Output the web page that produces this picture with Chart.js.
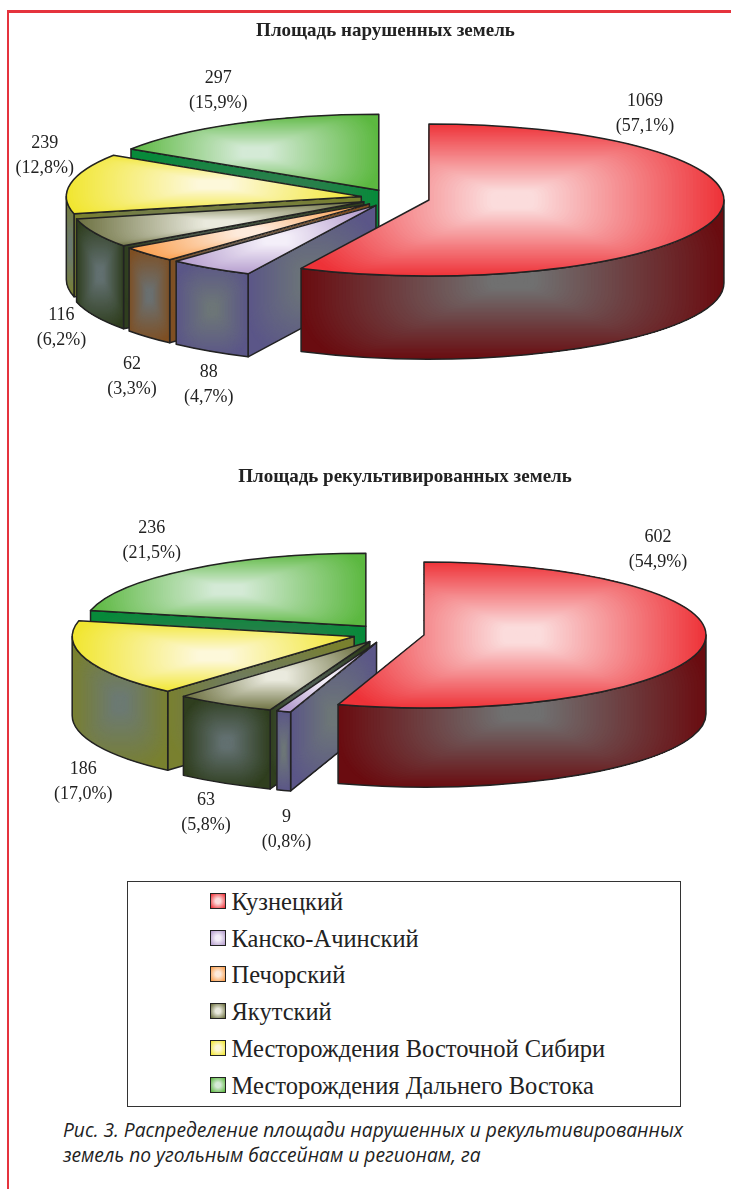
<!DOCTYPE html>
<html lang="ru">
<head>
<meta charset="utf-8">
<title>Площадь нарушенных и рекультивированных земель</title>
<script src="https://cdn.jsdelivr.net/npm/chart.js@4/dist/chart.umd.min.js"></script>
<style>
  html, body { margin: 0; padding: 0; background: #fff; overflow: hidden; }
  body { position: relative; width: 731px; height: 1189px; }
  #frameTop { position: absolute; left: 7px; right: 0; top: 10px; height: 3px; background: #e5333d; }
  #frameLeft { position: absolute; left: 7px; top: 10px; bottom: 0; width: 2.4px; background: #e5333d; }
  canvas { position: absolute; left: 0; display: block; }
  #chartDisturbed { top: 0; }
  #chartRestored { top: 440px; }
  #legendBox {
    position: absolute; left: 127px; top: 881px; width: 552px; height: 224px;
    border: 1px solid #333; font-family: "Liberation Serif", serif; font-size: 24.5px; color: #222;
  }
  .legendRow { position: absolute; left: 82px; height: 30px; line-height: 30px; white-space: nowrap; }
  .legendSwatch {
    position: absolute; left: 0; top: 6px; width: 14px; height: 14px; border: 1.5px solid #222;
  }
  .legendText { position: absolute; left: 21.5px; top: 0; }
  #note {
    position: absolute; left: 63px; top: 1117px; font-family: "Open Sans", sans-serif; font-style: italic;
    font-size: 20px; line-height: 25px; color: #222; white-space: nowrap;
    transform: scaleX(0.96); transform-origin: left top;
  }
</style>
</head>
<body>
<div id="frameTop"></div>
<div id="frameLeft"></div>
<canvas id="chartDisturbed" width="731" height="440"></canvas>
<canvas id="chartRestored" width="731" height="440"></canvas>
<div id="legendBox"></div>
<div id="note">Рис. 3. Распределение площади нарушенных и рекультивированных<br>земель по угольным бассейнам и регионам, га</div>

<script>
// Regions and hectares per chart
const regions = ['Кузнецкий', 'Канско-Ачинский', 'Печорский', 'Якутский', 'Месторождения Восточной Сибири', 'Месторождения Дальнего Востока'];
const disturbedArea = [1069, 88, 62, 116, 239, 297];
const disturbedShare = ['(57,1%)', '(4,7%)', '(3,3%)', '(6,2%)', '(12,8%)', '(15,9%)'];
const restoredArea = [602, 9, 0, 63, 186, 236];
const restoredShare = ['(54,9%)', '(0,8%)', '', '(5,8%)', '(17,0%)', '(21,5%)'];

// Face colours for each region: [edge, centre]
const topColors = [
  ['#ee3238', '#fbdcdc'], ['#b49ccd', '#f4eff9'], ['#fa9c48', '#fdeadb'],
  ['#6c7040', '#eaeade'], ['#f1e630', '#fdf8da'], ['#5cb840', '#d4ead6']
];
const sideColors = [
  ['#6a0c10', '#707070'], ['#5b5688', '#6d7678'], ['#7f4f22', '#6b7070'],
  ['#2f3e1e', '#627070'], ['#79802f', '#6c7a72'], ['#078a3a', '#457659']
];

function mix(a, b, t) {
  const pa = parseInt(a.slice(1), 16), pb = parseInt(b.slice(1), 16);
  const ch = s => Math.round(((pa >> s) & 255) * (1 - t) + ((pb >> s) & 255) * t);
  return `rgb(${ch(16)},${ch(8)},${ch(0)})`;
}

// Fills a face with a shape gradient running from bbox edge to bbox centre, then outlines it
function fillFace(ctx, tracePath, box, colors) {
  const [x0, y0, x1, y1] = box;
  const mx = (x0 + x1) / 2, my = (y0 + y1) / 2, hw = (x1 - x0) / 2, hh = (y1 - y0) / 2;
  ctx.save();
  ctx.beginPath();
  tracePath();
  ctx.clip();
  ctx.fillStyle = colors[0];
  ctx.fillRect(x0 - 2, y0 - 2, x1 - x0 + 4, y1 - y0 + 4);
  const steps = 60;
  for (let i = 0; i < steps; i++) {
    const k = 1 - i / steps;
    const w = hw * k + 1, h = hh * k + 1;
    ctx.fillStyle = mix(colors[0], colors[1], Math.min(1, (i / steps) * 1.12));
    ctx.beginPath();
    ctx.roundRect(mx - w, my - h, 2 * w, 2 * h, Math.min(w, h) * 0.7);
    ctx.fill();
  }
  ctx.restore();
  ctx.beginPath();
  tracePath();
  ctx.strokeStyle = '#222';
  ctx.lineWidth = 1.5;
  ctx.lineJoin = 'round';
  ctx.stroke();
}

// Extruded, tilted rendering of the pie's arc elements
const tiltedPie = {
  id: 'tiltedPie',
  beforeDatasetDraw(chart, args, opts) {
    const ctx = chart.ctx, arcs = args.meta.data, squash = opts.squash, depth = opts.depth;
    // Far slices first, the first slice overlaps the ones beside it
    const order = arcs.map((_, i) => i).reverse();
    ctx.save();
    for (const i of order) {
      const el = arcs[i];
      const { x, y, startAngle: s, endAngle: e, outerRadius: R } = el.getProps(['x', 'y', 'startAngle', 'endAngle', 'outerRadius'], true);
      if (e - s <= 0) continue;
      const mid = (s + e) / 2, off = el.options.offset;
      const cx = x + off * Math.cos(mid), cy = y + off * Math.sin(mid) * squash;
      const rim = a => [cx + R * Math.cos(a), cy + R * squash * Math.sin(a)];

      // Bounding box of the top sector
      const pts = [[cx, cy], rim(s), rim(e)];
      for (const q of [-Math.PI / 2, 0, Math.PI / 2, Math.PI]) {
        if (q >= s && q <= e) pts.push(rim(q));
      }
      const xs = pts.map(p => p[0]), ys = pts.map(p => p[1]);
      const box = [Math.min(...xs), Math.min(...ys), Math.max(...xs), Math.max(...ys)];

      // Cut wall along the leading radius, seen when it faces the viewer
      if (Math.sin(s - Math.PI / 2) > 0) {
        const [rx, ry] = rim(s);
        const wall = () => {
          ctx.moveTo(cx, cy); ctx.lineTo(rx, ry); ctx.lineTo(rx, ry + depth); ctx.lineTo(cx, cy + depth); ctx.closePath();
        };
        fillFace(ctx, wall, [Math.min(cx, rx), Math.min(cy, ry), Math.max(cx, rx), Math.max(cy, ry) + depth], sideColors[i]);
      }

      // Outer wall on the near half of the ellipse
      const a0 = Math.max(s, 0), a1 = Math.min(e, Math.PI);
      if (a1 > a0) {
        const outer = () => {
          ctx.ellipse(cx, cy, R, R * squash, 0, a0, a1);
          ctx.ellipse(cx, cy + depth, R, R * squash, 0, a1, a0, true);
          ctx.closePath();
        };
        const lefts = [rim(a0)[0], rim(a1)[0]], tops = [rim(a0)[1], rim(a1)[1]];
        if (a0 <= Math.PI / 2 && a1 >= Math.PI / 2) tops.push(cy + R * squash);
        fillFace(ctx, outer, [Math.min(...lefts), Math.min(...tops), Math.max(...lefts), Math.max(...tops) + depth], sideColors[i]);
      }

      // Top sector
      const sector = () => {
        ctx.moveTo(cx, cy);
        ctx.ellipse(cx, cy, R, R * squash, 0, s, e);
        ctx.closePath();
      };
      fillFace(ctx, sector, box, topColors[i]);
    }
    ctx.restore();
    return false;
  },
  afterDatasetsDraw(chart, args, opts) {
    const ctx = chart.ctx, arcs = chart.getDatasetMeta(0).data;
    const values = chart.data.datasets[0].data;
    ctx.save();
    ctx.fillStyle = '#222';
    ctx.textAlign = 'center';
    ctx.textBaseline = 'middle';
    ctx.font = opts.titleFont;
    ctx.fillText(opts.title, opts.titleX, opts.titleY);
    ctx.font = '18px "Liberation Serif", serif';
    arcs.forEach((el, i) => {
      if (!values[i]) return;
      const mid = (el.startAngle + el.endAngle) / 2, R = el.outerRadius;
      const ax = el.x + R * Math.cos(mid), ay = el.y + R * opts.squash * Math.sin(mid);
      const [nx, ny] = opts.labelShift[i];
      ctx.fillText(String(values[i]), ax + nx, ay + ny);
      ctx.fillText(opts.shares[i], ax + nx, ay + ny + opts.labelGap);
    });
    ctx.restore();
  }
};

function buildPie(id, values, shares, view) {
  return new Chart(document.getElementById(id), {
    type: 'pie',
    plugins: [tiltedPie],
    data: {
      labels: regions,
      datasets: [{ data: values, radius: view.radius, offset: view.explode, borderWidth: 0 }]
    },
    options: {
      responsive: false,
      animation: false,
      layout: { padding: view.padding },
      plugins: {
        legend: { display: false },
        tooltip: { enabled: false },
        tiltedPie: {
          squash: view.squash, depth: view.depth, shares,
          title: view.title, titleX: view.titleX, titleY: view.titleY,
          titleFont: 'bold 19px "Liberation Serif", serif',
          labelGap: 25, labelShift: view.labelShift
        }
      }
    }
  });
}

buildPie('chartDisturbed', disturbedArea, disturbedShare, {
  title: 'Площадь нарушенных земель', titleX: 385.5, titleY: 31.5,
  radius: 295, explode: 34.5, squash: 0.2576, depth: 83,
  padding: { left: 59.6, right: 0, top: 0, bottom: 44 },
  labelShift: [[-38, -114], [-21, 111], [-42, 116], [-65, 86], [-60, -42], [-36, -53]]
});

buildPie('chartRestored', restoredArea, restoredShare, {
  title: 'Площадь рекультивированных земель', titleX: 405, titleY: 37.5,
  radius: 282, explode: 36, squash: 0.2589, depth: 79,
  padding: { left: 45.8, right: 0, top: 0, bottom: 52.8 },
  labelShift: [[-9, -108], [-9, 115], [0, 0], [-37, 104], [-37, 113], [-60, -48]]
});

// Legend built from the region list and its colours
const legendBox = document.getElementById('legendBox');
const legendRowTop = [5, 42, 78, 115, 152, 189];
regions.forEach((name, i) => {
  const row = document.createElement('div');
  row.className = 'legendRow';
  row.style.top = legendRowTop[i] + 'px';
  const swatch = document.createElement('span');
  swatch.className = 'legendSwatch';
  swatch.style.background = `radial-gradient(circle, ${topColors[i][1]} 25%, ${topColors[i][0]} 95%)`;
  const text = document.createElement('span');
  text.className = 'legendText';
  text.textContent = name;
  row.append(swatch, text);
  legendBox.append(row);
});
</script>
</body>
</html>
